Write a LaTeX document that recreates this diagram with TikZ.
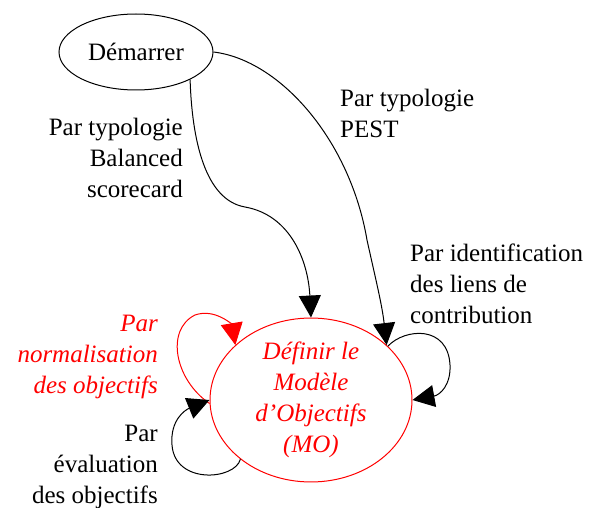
\documentclass[tikz,border=0pt]{standalone}
\usepackage{fontspec}
\setmainfont{Liberation Serif}
\usetikzlibrary{shapes.geometric,arrows.meta}
\tikzset{
  stateA/.style={ellipse,draw=black,line width=1pt,inner sep=0pt,minimum width=154pt,minimum height=76pt,font=\fontsize{25}{31}\selectfont},
  stateB/.style={ellipse,draw=red,text=red,line width=1pt,inner sep=0pt,minimum width=202pt,minimum height=146pt,align=center,font=\fontsize{25}{31}\selectfont\itshape},
  lbl/.style={inner sep=0pt,font=\fontsize{25}{31}\selectfont},
  conn/.style={line width=1pt,-{Triangle[length=22pt,width=22pt]}},
}
\begin{document}
\begin{tikzpicture}[x=1pt,y=-1pt]
\useasboundingbox (0,0) rectangle (592,508);
\node[stateA] (dem) at (136,52) {Démarrer};
\node[stateB] (mo) at (311,400) {Définir le\\Modèle\\d’Objectifs\\(MO)};
\node[lbl,anchor=east,align=right] (l1) at (183,158) {Par typologie\\Balanced\\scorecard};
\node[lbl,anchor=west,align=left] (l2) at (340,113) {Par typologie\\PEST};
\node[lbl,anchor=west,align=left] (l3) at (410,284) {Par identification\\des liens de\\contribution};
\node[lbl,anchor=east,align=right,text=red,font=\fontsize{25}{31}\selectfont\itshape] (l4) at (158,357) {Par\\normalisation\\des objectifs};
\node[lbl,anchor=east,align=right] (l5) at (158,467) {Par\\évaluation\\des objectifs};
\draw[conn] (dem.-27) .. controls (192,140) and (205,200) .. (245,207) .. controls (290,215) and (308,260) .. (mo.north);
\draw[conn] (dem.east) .. controls (280,60) and (350,140) .. (367,240) .. controls (377,285) and (382,305) .. (mo.36);
\draw[conn] (mo.35) .. controls (405,328) and (448,325) .. (450,365) .. controls (451,385) and (440,395) .. (mo.east);
\draw[conn,draw=red] (mo.182) .. controls (175,380) and (165,330) .. (195,315) .. controls (215,308) and (232,325) .. (mo.144);
\draw[conn] (mo.-140) .. controls (235,480) and (175,485) .. (172,445) .. controls (170,420) and (185,410) .. (mo.180);
\end{tikzpicture}
\end{document}
